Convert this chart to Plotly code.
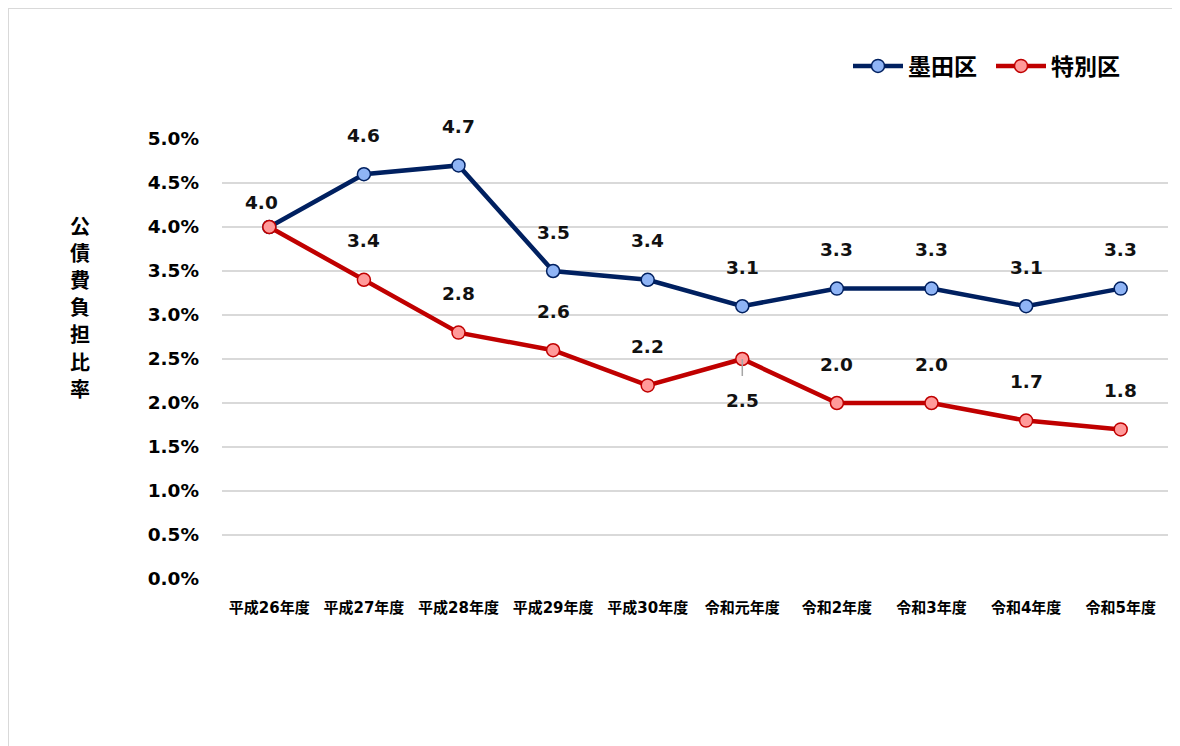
import plotly.graph_objects as go

categories = ["平成26年度", "平成27年度", "平成28年度", "平成29年度", "平成30年度",
              "令和元年度", "令和2年度", "令和3年度", "令和4年度", "令和5年度"]
sumida = [4.0, 4.6, 4.7, 3.5, 3.4, 3.1, 3.3, 3.3, 3.1, 3.3]
tokubetsu = [4.0, 3.4, 2.8, 2.6, 2.2, 2.5, 2.0, 2.0, 1.8, 1.7]
sumida_labels = ["4.0", "4.6", "4.7", "3.5", "3.4", "3.1", "3.3", "3.3", "3.1", "3.3"]
tokubetsu_labels = ["", "3.4", "2.8", "2.6", "2.2", "2.5", "2.0", "2.0", "1.7", "1.8"]
y_ticks = [0.0, 0.5, 1.0, 1.5, 2.0, 2.5, 3.0, 3.5, 4.0, 4.5, 5.0]
y_title = "公債費負担比率"

FONT = "DejaVu Sans, Noto Sans CJK JP, sans-serif"
JFONT = "Noto Sans CJK JP, sans-serif"
BLUE = "#002060"
BLUE_FILL = "#8FB4F5"
RED = "#C00000"
RED_FILL = "#FF9A9A"

fig = go.Figure()
fig.add_trace(go.Scatter(
    x=categories, y=sumida, name="墨田区", mode="lines+markers",
    line=dict(color=BLUE, width=4.5),
    marker=dict(size=13, color=BLUE_FILL, line=dict(color=BLUE, width=1.5)),
))
fig.add_trace(go.Scatter(
    x=categories, y=tokubetsu, name="特別区", mode="lines+markers",
    line=dict(color=RED, width=4.5),
    marker=dict(size=13, color=RED_FILL, line=dict(color=RED, width=1.5)),
))

annotations = []
for i, (c, v, t) in enumerate(zip(categories, sumida, sumida_labels)):
    if i == 0:
        annotations.append(dict(x=c, y=v, text=t, showarrow=False, xshift=-8, yshift=25))
    else:
        annotations.append(dict(x=c, y=v, text=t, showarrow=False, yshift=39))
for i, (c, v, t) in enumerate(zip(categories, tokubetsu, tokubetsu_labels)):
    if not t:
        continue
    if c == "令和元年度":
        annotations.append(dict(x=c, y=v, text=t, showarrow=True, arrowhead=0,
                                arrowcolor="#A6A6A6", arrowwidth=1.5,
                                ax=0, ay=41, standoff=0, startstandoff=12))
    else:
        annotations.append(dict(x=c, y=v, text=t, showarrow=False, yshift=39))
for a in annotations:
    a["font"] = dict(family=FONT, size=18.5, color="#111111", weight="bold")

# vertical axis title, one character per line
for i, ch in enumerate(y_title):
    page_y = 225 + 27.2 * i
    annotations.append(dict(
        xref="paper", yref="paper", x=(80 - 222) / 946, y=(579 - page_y) / 440,
        xanchor="center", yanchor="middle", text=ch, showarrow=False, borderpad=0,
        font=dict(family=JFONT, size=20, color="#000000", weight="bold"),
    ))

fig.update_layout(
    width=1172, height=738,
    margin=dict(l=214, r=12, t=131, b=167, autoexpand=False),
    paper_bgcolor="white", plot_bgcolor="white",
    showlegend=True,
    legend=dict(orientation="h", x=(848 - 222) / 946, y=1.166,
                xanchor="left", yanchor="middle",
                font=dict(family=JFONT, size=23, color="#000000", weight="bold"),
                entrywidth=78, entrywidthmode="pixels",
                itemwidth=50, bgcolor="rgba(0,0,0,0)"),
    xaxis=dict(type="category", range=[-0.5, 9.5], showgrid=False, zeroline=False,
               showline=False, ticks="", ticklabelstandoff=18, tickangle=0,
               tickfont=dict(family=FONT, size=15, color="#000000", weight="bold")),
    yaxis=dict(range=[0, 5.0], tickvals=y_ticks,
               ticktext=[f"{v:.1f}%" for v in y_ticks],
               showgrid=True, gridcolor="#D9D9D9", gridwidth=1.5,
               zeroline=False, showline=False, ticks="", ticklabelstandoff=22,
               tickfont=dict(family=FONT, size=18.5, color="#000000", weight="bold")),
    annotations=annotations,
    shapes=[
        dict(type="line", xref="paper", yref="paper",
             x0=(8 - 222) / 946, x1=(1180 - 222) / 946,
             y0=(579 - 8) / 440, y1=(579 - 8) / 440,
             line=dict(color="#D9D9D9", width=2)),
        dict(type="line", xref="paper", yref="paper",
             x0=(8 - 222) / 946, x1=(8 - 222) / 946,
             y0=(579 - 746) / 440, y1=(579 - 8) / 440,
             line=dict(color="#D9D9D9", width=2)),
    ],
)

fig.write_html("out.html")
